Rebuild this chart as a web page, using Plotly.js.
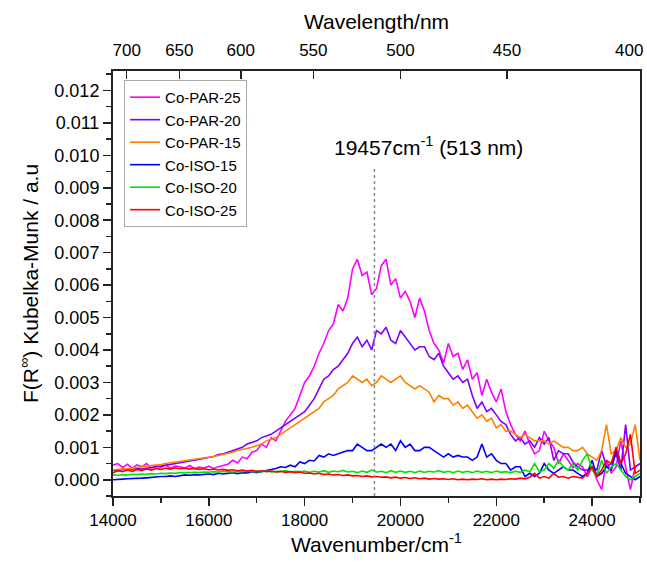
<!DOCTYPE html>
<html>
<head>
<meta charset="utf-8">
<script src="https://cdn.plot.ly/plotly-3.0.1.min.js"></script>
<style>html,body{margin:0;padding:0;background:#fff;}#chart{width:647px;height:565px;}</style>
</head>
<body>
<div id="chart"></div>
<script>
// Wavenumber grid (cm-1)
const wavenumber = [
14000,14100,14200,14300,14400,14500,14600,14700,14800,14900,
15000,15100,15200,15300,15400,15500,15600,15700,15800,15900,
16000,16100,16200,16300,16400,16500,16600,16700,16800,16900,
17000,17100,17200,17300,17400,17500,17600,17700,17800,17900,
18000,18100,18200,18300,18400,18500,18600,18700,18800,18900,
19000,19100,19200,19300,19400,19500,19600,19700,19800,19900,
20000,20100,20200,20300,20400,20500,20600,20700,20800,20900,
21000,21100,21200,21300,21400,21500,21600,21700,21800,21900,
22000,22100,22200,22300,22400,22500,22600,22700,22800,22900,
23000,23100,23200,23300,23400,23500,23600,23700,23800,23900,
24000,24100,24200,24300,24400,24500,24600,24700,24800,24900,
25000];

const coPAR25 = [
0.00045,0.0005,0.00038,0.00048,0.00035,0.00046,0.0004,0.0005,0.00036,0.00044,
0.00038,0.00046,0.00035,0.00042,0.0004,0.00036,0.00044,0.00034,0.00039,0.00036,
0.00042,0.00035,0.0004,0.00044,0.00048,0.0006,0.00052,0.0007,0.00065,0.00085,
0.0009,0.0011,0.001,0.0013,0.0012,0.0015,0.0018,0.002,0.0022,0.0026,
0.003,0.0032,0.0035,0.0039,0.0042,0.0046,0.0048,0.0054,0.0052,0.0056,
0.0065,0.0068,0.0063,0.0064,0.0057,0.0059,0.0066,0.0068,0.006,0.0062,
0.0056,0.0058,0.0055,0.005,0.0056,0.0052,0.0046,0.0042,0.004,0.0036,
0.0042,0.0038,0.0039,0.0034,0.0037,0.0031,0.0033,0.0026,0.0031,0.0027,
0.0024,0.0028,0.0021,0.0017,0.0014,0.0012,0.0015,0.0011,0.0008,0.0009,
0.0015,0.0012,0.001,0.0005,0.0008,0.0006,0.00037,0.0005,0.0004,0.0001,
0.0004,0.0,-0.0003,0.0006,0.0002,0.0004,0.0012,0.0004,-0.0003,0.0004,
0.0005];

const coPAR20 = [
0.0003,0.00028,0.00032,0.0003,0.00033,0.00035,0.00033,0.00036,0.00038,0.0004,
0.00042,0.00045,0.00048,0.0005,0.00052,0.00055,0.00058,0.0006,0.00063,0.00066,
0.0007,0.00072,0.00078,0.0008,0.00085,0.0009,0.00095,0.001,0.0011,0.00115,
0.0012,0.0013,0.00135,0.0014,0.0015,0.0016,0.0017,0.0018,0.0019,0.002,
0.0021,0.0023,0.0025,0.0028,0.0031,0.0032,0.0034,0.0035,0.0037,0.0039,
0.0042,0.0044,0.0041,0.0043,0.004,0.0046,0.0045,0.0047,0.0043,0.0042,
0.0046,0.0044,0.0042,0.004,0.0041,0.0041,0.0038,0.0037,0.0039,0.0035,
0.0033,0.0031,0.0032,0.003,0.0031,0.0026,0.0022,0.0024,0.0021,0.0022,
0.002,0.0018,0.0017,0.0014,0.0012,0.0013,0.0011,0.0012,0.001,0.0013,
0.0011,0.0013,0.0006,0.0009,0.0008,0.0008,0.00055,0.0004,0.0003,0.0003,
0.0004,0.0003,0.0009,0.0004,0.0005,0.0008,0.0003,0.0017,0.0003,0.0004,
0.0005];

const coPAR15 = [
0.0003,0.00032,0.00034,0.00033,0.00036,0.00038,0.0004,0.00042,0.00043,0.00045,
0.00047,0.0005,0.00052,0.00054,0.00056,0.00058,0.0006,0.00062,0.00065,0.00068,
0.0007,0.00072,0.00075,0.00078,0.0008,0.00085,0.0009,0.00093,0.00097,0.001,
0.00105,0.0011,0.0012,0.00125,0.0013,0.0014,0.0015,0.0016,0.0017,0.0018,
0.0019,0.002,0.0021,0.0022,0.0024,0.0025,0.0026,0.0028,0.0029,0.003,
0.0032,0.0031,0.003,0.0031,0.0029,0.003,0.0032,0.0031,0.003,0.0031,
0.0032,0.003,0.0029,0.0028,0.0029,0.0028,0.0027,0.0024,0.0026,0.0025,
0.0025,0.0023,0.0024,0.0022,0.0023,0.0021,0.0019,0.002,0.0018,0.0019,
0.0016,0.0017,0.0015,0.0015,0.0014,0.0013,0.0014,0.0013,0.0012,0.0012,
0.0012,0.0011,0.0012,0.0011,0.001,0.001,0.0009,0.0009,0.001,0.0008,
0.0007,0.0006,0.0009,0.0017,0.0008,0.0009,0.0013,0.001,0.0011,0.0017,
0.0006];

const coISO15 = [
0.0,0.0,0.00002,0.00003,0.00003,0.00005,0.00005,0.00006,0.00008,0.00008,
0.0001,0.0001,0.00012,0.0001,0.00013,0.00015,0.00014,0.00016,0.00015,0.00017,
0.00018,0.00016,0.0002,0.00018,0.0002,0.00022,0.00019,0.00022,0.00021,0.00024,
0.00022,0.00025,0.00028,0.00032,0.00035,0.0004,0.00038,0.00045,0.0004,0.00055,
0.0005,0.0006,0.00058,0.00075,0.0007,0.0008,0.00075,0.0008,0.00085,0.0009,
0.0009,0.0011,0.001,0.0009,0.0009,0.001,0.0011,0.001,0.0011,0.0009,
0.0012,0.001,0.0011,0.0009,0.0009,0.001,0.001,0.0009,0.0008,0.0007,
0.0008,0.0007,0.00075,0.0007,0.0007,0.0006,0.0007,0.0011,0.0007,0.0008,
0.0006,0.0005,0.0005,0.0003,0.0004,0.0004,0.0001,0.0002,0.0001,0.0002,
0.0005,0.0003,0.0002,0.0003,0.0004,0.0003,0.0003,0.0002,0.0001,0.0002,
0.0006,0.0001,0.0002,0.0004,0.0003,0.0009,0.0005,0.0002,0.0001,0.0,
0.0001];

const coISO20 = [
0.00015,0.00014,0.00016,0.00015,0.00017,0.00016,0.00018,0.00017,0.00019,0.00018,
0.0002,0.00019,0.00021,0.0002,0.00022,0.00021,0.00022,0.00023,0.00022,0.00024,
0.00023,0.00025,0.00024,0.00026,0.00025,0.00024,0.00026,0.00025,0.00027,0.00024,
0.00026,0.00025,0.00027,0.00024,0.00026,0.00025,0.00028,0.00024,0.00026,0.00025,
0.00027,0.00023,0.00026,0.00024,0.00028,0.00023,0.00027,0.00025,0.00029,0.00024,
0.00026,0.00022,0.00027,0.00023,0.0003,0.00024,0.00026,0.00022,0.00028,0.00023,
0.00027,0.00023,0.00026,0.00022,0.00027,0.00023,0.00026,0.00024,0.00028,0.00023,
0.00026,0.00022,0.00027,0.00023,0.00026,0.00022,0.00027,0.00023,0.00026,0.00022,
0.00027,0.00023,0.00025,0.00022,0.00026,0.00023,0.0003,0.00025,0.0005,0.00025,
0.0003,0.0005,0.00035,0.0006,0.0004,0.0003,0.0005,0.0003,0.0006,0.0008,
0.0003,0.0001,0.0006,0.0002,0.0004,0.0005,0.0003,0.0001,0.0,0.0001,
0.0002];

const coISO25 = [
0.00022,0.00028,0.00025,0.0003,0.00026,0.00032,0.00028,0.00033,0.0003,0.00035,
0.00032,0.00036,0.00033,0.00037,0.00034,0.00036,0.00033,0.00035,0.00032,0.00034,
0.00031,0.00033,0.0003,0.00032,0.00029,0.00031,0.00028,0.0003,0.00027,0.00029,
0.00026,0.00028,0.00025,0.00027,0.00024,0.00026,0.00023,0.00025,0.00022,0.00024,
0.0002,0.00021,0.00018,0.0002,0.00016,0.00018,0.00015,0.00016,0.00013,0.00015,
0.00012,0.00013,0.0001,0.00012,0.00009,0.0001,0.00008,0.00009,0.00006,0.00008,
0.00005,0.00007,0.00004,0.00006,0.00003,0.00005,0.00002,0.00004,0.00002,0.00003,
0.00001,0.00003,0.0,0.00002,0.0,0.00002,0.00001,0.00003,0.0,0.00002,
0.0,0.00002,0.00001,0.00003,0.00002,0.00005,0.00003,0.00008,0.0002,0.00005,
0.0001,0.00005,0.0002,0.00008,0.0001,0.00005,0.0001,0.00008,0.00005,0.0002,
0.0004,0.0001,0.0003,0.0006,0.0005,0.001,0.0005,0.0008,0.0014,0.0002,
0.0003];

const seriesNames = ['Co-PAR-25','Co-PAR-20','Co-PAR-15','Co-ISO-15','Co-ISO-20','Co-ISO-25'];
const seriesColors = ['#ff00ff','#8000ff','#ff8000','#0000ff','#00e600','#ff0000'];
const seriesValues = [coPAR25, coPAR20, coPAR15, coISO15, coISO20, coISO25];

// Top axis: wavelength ticks (nm); the last one sits on the right edge
const wavelengthTicks = [700, 650, 600, 550, 500, 450, 400];
const wavelengthLabels = ['700','650','600','550','500','450','400'];
const peakWavenumber = 19457;

const traces = seriesNames.map((n, i) => ({
  x: wavenumber, y: seriesValues[i], type: 'scatter', mode: 'lines', name: n,
  line: {color: seriesColors[i], width: 1.6}
}));
traces.push({x: [14000, 25000], y: [null, null], xaxis: 'x2', yaxis: 'y', type: 'scatter',
  mode: 'lines', showlegend: false, hoverinfo: 'skip'});

const nEdge = wavelengthTicks.length - 1;
const topTickText = wavelengthLabels.map((t, i) => i === nEdge ? '' : t);

const fontFam = 'Liberation Sans, Arial, sans-serif';
const layout = {
  width: 647, height: 565,
  margin: {l: 113, r: 7, t: 71, b: 69},
  paper_bgcolor: '#fff', plot_bgcolor: '#fff',
  font: {family: fontFam, color: '#000', size: 17},
  showlegend: true,
  legend: {x: 0.021, y: 0.979, xanchor: 'left', yanchor: 'top', bordercolor: '#aaa', borderwidth: 1,
    bgcolor: 'rgba(255,255,255,0)', font: {size: 15, family: fontFam}, itemwidth: 30, tracegroupgap: 0},
  xaxis: {
    range: [14000, 25000], dtick: 2000, tick0: 14000, tickformat: 'd', ticks: 'outside', ticklen: 8, tickwidth: 1.5,
    tickcolor: '#222', showline: true, linecolor: '#222', linewidth: 2, showgrid: false, zeroline: false,
    tickfont: {size: 17}, mirror: false,
    minor: {dtick: 1000, ticks: 'outside', ticklen: 5, tickwidth: 1.5, tickcolor: '#222'},
    title: {text: 'Wavenumber/cm<sup>-1</sup>', font: {size: 21}, standoff: 3}
  },
  xaxis2: {
    overlaying: 'x', side: 'top', range: [14000, 25000], anchor: 'y',
    tickmode: 'array', tickvals: wavelengthTicks.map(w => 1e7 / w), ticktext: topTickText,
    ticks: 'inside', ticklen: 8, tickwidth: 1.5, tickcolor: '#222',
    ticklabelstandoff: 6,
    showline: true, linecolor: '#222', linewidth: 2, showgrid: false, zeroline: false,
    tickfont: {size: 17},
    title: {text: 'Wavelength/nm', font: {size: 21}, standoff: 6}
  },
  yaxis: {
    range: [-0.0005, 0.0126], dtick: 0.001, tick0: 0, tickformat: '.3f', ticks: 'outside', ticklen: 8,
    tickwidth: 1.5, tickcolor: '#222', showline: true, linecolor: '#222', linewidth: 2, mirror: true,
    showgrid: false, zeroline: false, tickfont: {size: 18},
    minor: {dtick: 0.0005, ticks: 'outside', ticklen: 5, tickwidth: 1.5, tickcolor: '#222'},
    title: {text: 'F(R<sup>\u221e</sup>) Kubelka-Munk / a.u', font: {size: 21}, standoff: 10}
  },
  shapes: [{type: 'line', xref: 'x', yref: 'y', x0: peakWavenumber, x1: peakWavenumber,
    y0: -0.0005, y1: 0.0096, line: {color: '#888', width: 1.5, dash: 'dot'}}],
  annotations: [
    {xref: 'x', yref: 'y', x: peakWavenumber, y: 0.0103, xanchor: 'left', yanchor: 'middle',
     xshift: -42, showarrow: false, text: '19457cm<sup>-1</sup> (513 nm)', font: {size: 21, family: fontFam}},
    {xref: 'x', yref: 'paper', x: 1e7 / wavelengthTicks[nEdge], y: 1, xanchor: 'right', yanchor: 'middle',
     xshift: 5, yshift: 21, showarrow: false, text: wavelengthLabels[nEdge], font: {size: 17, family: fontFam}}
  ]
};

Plotly.newPlot('chart', traces, layout, {displayModeBar: false, staticPlot: true});
</script>
</body>
</html>
